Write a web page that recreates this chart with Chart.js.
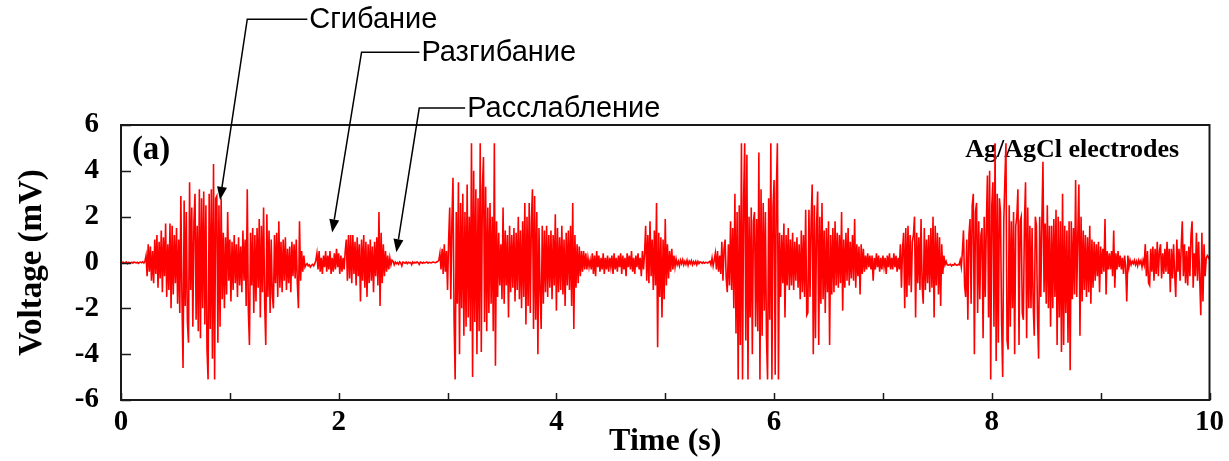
<!DOCTYPE html>
<html>
<head>
<meta charset="utf-8">
<title>EMG, Ag/AgCl electrodes</title>
<script src="https://cdn.jsdelivr.net/npm/chart.js@4.4.0/dist/chart.umd.min.js"></script>
<style>
  html, body { margin: 0; padding: 0; background: #fff; }
  #emgChart { display: block; }
</style>
</head>
<body>
<canvas id="emgChart" width="1229" height="461"></canvas>
<script>
// time between samples (s)
const sampleStep = 0.01;

// voltage (mV), one array per stretch of the recording
// each row is 0.1 s unless noted
const rest0 = [
  0, -0.02, 0.02, -0.03, 0, 0.02, -0.05, 0.01, 0, -0.02,
  0.01, -0.03, 0.02, 0, -0.02, 0.01, -0.04, 0, 0.02, -0.01,
  0.03, -0.02, 0.05
];
const flexion = [
  0.3, -0.6, 0.8, -0.4, 0.7, -0.8, 0.5,
  -0.9, 1.0, -0.5, 1.2, -1.1, 0.9, -0.7, 1.4, -1.3, 1.1,
  -0.6, 1.7, -1.5, 0.8, -1.2, 1.7, -2.0, 1.6, -1.4, 1.2,
  -0.9, 1.5, -1.8, 1.0, -2.2, 2.9, -1.6, -4.6, 2.7, -1.9,
  2.2, -2.6, -3.5, 3.5, -1.2, 2.4, -2.8, 1.8, 3.0, -2.5,
  1.6, -3.0, 3.2, -3.3, 2.8, -2.0, 3.1, -2.7, 2.5, -3.8,
  -5.1, 3.0, -2.9, 3.2, -4.2, 4.3, -5.1, 2.8, 2.9, -3.5,
  2.5, -2.8, 2.8, -1.6, 1.3, -2.0, 1.1, -1.4, 2.2, -0.8,
  1.0, -1.7, 0.9, -1.2, 1.2, -0.9, 0.8, -1.5, 1.1, -1.0,
  0.7, -1.3, 1.4, -0.8, 1.0, -1.9, 3.2, -2.1, -3.6, 1.3,
  -1.0, 1.5, -2.2, 1.2, -1.7, 1.5, -1.1, 1.9, -2.4, 1.6,
  -1.3, 2.4, -1.8, -3.6, 2.1, -1.5, 1.4, -2.2, 1.0, -1.4,
  -2.0, 1.2, -0.9, 1.3, -1.5, 1.8, -1.1, 0.9, -1.3, 1.0,
  -0.8, 1.1, -1.2, 0.6, -0.9, 0.7, -1.3, 0.9, -0.6, 0.8,
  -0.7, 1.0, -0.9, -2.0, 1.8, -0.8, 0.5, -0.4, 0.3, -0.2
];
const rest1 = [-0.1, -0.05, -0.15, -0.1, -0.2, -0.12, -0.08, -0.15, -0.05, 0.1];
const extension = [
  0.4, -0.3, 0.5, -0.4, 0.2, -0.5, 0.3, -0.2, 0.5, -0.4,
  0.3, -0.3, 0.5, -0.5, 0.2, -0.4, 0.4, -0.3, 0.6, -0.2,
  0.4, -0.5, 0.3, -0.4, 0.2, -0.3, 0.5, 1.0, -0.8, 1.2,
  -0.7, 1.2, -0.9, 1.2, -0.5, 0.9, -1.0, 1.1, -0.6, 0.8,
  -1.7, 1.0, -0.8, 1.2, -1.1, 0.9, -1.5, 0.8, -0.9, 1.0,
  -0.8, 0.7, -1.3, 0.9, -0.6, 1.1, -1.0, 2.2, -1.9, 1.3,
  -0.9, 0.8, -0.6, 0.5, -0.4, 0.3, -0.3, 0.2, -0.1, 0.1
];
const rest2 = [
  0.05, -0.1, 0.02, -0.05, 0, -0.08, 0.03, -0.02, -0.15, 0.02,
  0, -0.03, 0.02, -0.05, 0.01, -0.02, 0, -0.1, 0.02, -0.03,
  0.01, -0.02, 0.03, -0.01, -0.08, 0.02, 0, -0.03, 0.01, -0.02,
  0, 0.02, -0.03, 0.01, 0, -0.02, 0.01, 0.02, 0, -0.01,
  0.02, 0.05, 0.1
];
const burst3 = [
  0.4, -0.3, 0.6, -0.5, 0.8, -0.4, 0.5,
  -1.2, 1.0, 2.4, -1.6, 1.8, 3.7, -2.5, -5.1, 2.2, -1.8,
  3.5, -4.0, 2.6, -2.0, 3.0, -3.2, 2.2, -2.8, 3.4, -2.4,
  2.0, -3.0, 5.2, -5.0, 4.0, -2.6, 3.2, -4.0, 2.8, -3.0,
  5.2, -3.9, 3.2, 4.6, -2.6, 3.3, -3.0, 2.4, -2.2, 2.6,
  -1.8, 2.0, -3.0, 5.2, -4.5, 1.8, -1.5, 1.3, -1.0, 0.8,
  -1.6, 2.4, -1.8, 1.4, -1.0, 1.2, -2.4, 1.6, -1.3, 1.2,
  -1.1, 1.5, -1.7, 1.3, -1.2, 2.0, -1.6, 1.4, -2.0, 1.8,
  -1.5, 2.6, -2.7, 2.0, -1.9, 2.6, -2.2, 1.8, 3.2, -2.9,
  2.9, -2.5, 2.2, -4.0, 1.5, -1.2, -2.9, 1.6, -1.8, 1.4,
  -1.3, 1.6, -1.5, 1.2, -1.1, 1.4, -1.6, 1.2, -1.0, 2.1,
  -2.1, 1.5, -1.3, 1.1, -1.2, 1.6, -1.4, 1.0, -1.9, 1.3,
  -1.0, 1.4, -1.2, 1.6, -1.9, 2.6, -2.9, 1.2, -1.1, 0.8,
  -0.9, 0.7, -0.6, 0.5, -0.4, 0.5, -0.3, 0.4, -0.3, 0.2, -0.2, 0.1
];
const gap3 = [
  -0.3, 0.4, -0.5, 0.3, -0.6, 0.5, -0.2, 0.3,
  -0.4, 0.2, -0.3, 0.4, -0.5, 0.2, -0.3, 0.3, -0.4, 0.2,
  -0.2, 0.3, -0.5, 0.4, -0.3, 0.2, -0.4, 0.3, -0.2, 0.4,
  -0.5, 0.3, -0.3, 0.2, -0.6, 0.4, -0.2, 0.3, -0.3, 0.5,
  -0.4, 0.2, -0.5, 0.3, -0.2, 0.4, -0.3, 0.2, -0.6, 0.5,
  -0.3, 0.4
];
const twitch3 = [
  1.6, -0.8, 1.2, -0.9, 1.8, -0.6, 1.0, -1.2,
  1.4, -1.0, 2.6, -3.7, 1.3, -1.5, 1.1, -2.4, 1.0, -1.6,
  1.9, -1.0, 0.8, -0.7, 0.5, -0.4, 0.6, -0.3, 0.3
];
const rest3 = [
  -0.2,
  0.15, -0.1, 0.05, -0.15, 0.1, -0.05, 0.12, -0.1, 0.05, -0.08,
  0.1, -0.12, 0.06, -0.05, 0.08, -0.1, 0.04, -0.06, 0.05, -0.1,
  0.05, -0.05, 0.03, 0, -0.04, 0.02, -0.03, 0.01, 0, -0.02,
  0.02, 0.05, -0.1, 0.2, -0.15, 0.1
];
const burst4 = [
  0.4, -0.3, 0.5, -0.4,
  0.3, -0.5, 0.9, -0.8, 0.6, 1.0, -0.7, -1.3, 0.8, -1.0,
  1.8, -1.2, 1.5, -2.0, 3.0, -3.1, 2.2, -5.1, 2.5, -3.6,
  5.2, -5.1, 2.8, 5.2, -3.4, 4.7, -5.1, 2.0, -2.4, 2.4,
  -4.0, 1.8, 2.2, -2.8, 1.9, -3.0, 4.8, -5.1, 3.2, -3.2,
  2.6, -2.1, 2.2, -3.3, -5.1, 2.8, -2.5, 5.2, -5.1, 2.4,
  3.6, -4.9, 3.0, 5.2, -5.1, 1.3, -1.5, 1.2, -0.9, 1.7,
  -2.4, 1.2, -1.0, 1.5, -1.2, 1.0, -1.0, 1.3, -1.2, 0.9,
  -0.8, 1.1, -1.1, 0.8, -1.6, 1.4, -1.3, 1.2, -1.5, 2.3,
  -2.3, -2.2, 2.3, -1.5, 1.8, 3.4, -4.0, 2.5, -3.3, 1.6,
  3.1, -3.6, 2.0, -1.8, 2.6, -1.6, 1.4, -2.2, 1.5, -1.3,
  1.8, -3.6, 1.2, -1.4, 1.5, -1.3, 1.8, -1.0, 1.3, -1.1,
  1.2, -0.9, 2.2, -2.1, 1.0, -1.1, 1.3, -0.8, 1.5, -1.0,
  0.9, -0.7, 1.2, -0.8, 1.9, -1.1, 0.8, -0.6, 0.7, -1.4,
  0.8, -0.5, 0.6, -0.4, 0.3, -0.3, 0.4, -0.2, 0.3
];
const gap4 = [
  -0.3,
  0.3, -0.8, 0.2, -0.3, 0.4, -0.2, 0.3, -0.4, 0.2, -0.3,
  0.3, -0.2, 0.2, -0.5, 0.3, -0.2, 0.4, -0.3, 0.2, -0.3,
  0.4, -0.2, 0.3, -0.4, 0.2, -0.3
];
const twitch4 = [
  0.8, -1.1, 0.6, 1.3,
  -2.0, 1.5, -1.5, 1.6, -1.0, 1.2, -1.3, 0.9, 1.2, 2.0,
  -2.4, 1.3, -0.9, 1.1, -1.2, 1.9, -1.0, -1.8, 1.5, -1.2,
  1.0, -0.9, 1.2, -1.3, 1.5, -1.1, 2.0, -2.4, 1.6, -1.0,
  1.3, -1.4, 1.1, -1.9, 0.8, -0.5, 0.3
];
const rest4 = [
  -0.1, 0.05, -0.1,
  -0.12, -0.1, -0.08, -0.15, -0.1, -0.12, -0.05, -0.1, -0.12, -0.08,
  -0.1, 0.1, -0.2
];
const burst5 = [
  0.5, 1.4, -1.0, -1.5, 1.0, -2.5, 1.2,
  1.9, -1.8, 2.5, 3.0, -4.0, 2.2, 2.6, -2.2, 1.8, -1.6,
  1.2, 1.5, -3.3, 2.0, -1.5, 1.7, 3.8, -2.4, 4.0, -5.1,
  2.5, 3.5, -2.8, 5.2, -4.3, 3.0, -3.5, 2.8, 2.2, -2.6,
  -5.0, 1.8, 3.6, 5.2, -3.4, -3.8, 2.5, -2.8, 1.8, -2.0,
  2.2, -4.0, 1.6, 2.0, 3.2, -3.6, 1.8, 2.0, -2.2, -2.5,
  1.8, 3.5, -3.3, 2.4, -2.0, 1.6, -2.0, 1.5, -1.8, -3.2,
  2.0, 1.6, -2.4, -4.2, 2.0, -1.5, 1.8, 4.4, -1.3, 1.7,
  -1.8, 2.5, -2.0, 1.6, -2.8, 1.6, -2.0, 1.9, -1.5, 2.3,
  -3.6, 2.0, -2.4, 1.8, -3.9, 3.0, -3.6, 1.6, -2.2, 1.4,
  -3.5, 1.8, -4.7, 1.8, -1.6, 1.5, -1.4, 3.6, -1.5, 1.2,
  3.4, -3.2, 2.0, -1.7, 1.4, -1.2, 1.2, -1.5, 1.1, -1.3,
  1.6, -1.8, 1.0, -1.1, 0.9, -0.8, 0.8, -0.6, 0.9, -1.3,
  0.7, -0.5, 0.6, -0.4, 1.9, -1.4, 0.5, -0.3, 0.4, -0.3,
  0.5, -0.6, 1.4, -1.1, 0.4, -0.3, 0.5, -0.2, 0.3, -0.3,
  0.2, -0.5, 0.3, -0.2, -1.7, 0.3, -0.2, 0.1
];
const rest5 = [
  -0.1, 0.05,
  -0.05, 0.1, -0.1, 0.05, -0.15, 0.1, -0.05, 0.08, -0.2, 0.1,
  -0.1
];
const tail = [
  0.8, -0.6, 0.5, -0.9, -1.0, 0.6, -0.4, 0.7, -0.8,
  0.6, -0.5, 0.9, -0.6, 0.5, 0.8, -0.7, 0.4, -0.5, 0.6,
  -0.4, 0.9, -0.5, 0.6, -1.3, 0.6, -0.7, 0.8, -0.5, -1.5,
  1.0, -0.4, 0.6, -0.8, 0.7, 1.8, -0.6, 0.8, -0.9, 0.5,
  -1.0, 0.7, -0.6, 1.2, 1.8, -1.1, 0.4, -0.6, 1.3, -0.8,
  0.9, -0.7, -2.3, 1.3, -1.7, 0.8, -0.6, 0.2, 0.3, 0.2,
  0.3
];

const segments = [rest0, flexion, rest1, extension, rest2, burst3, gap3, twitch3,
                  rest3, burst4, gap4, twitch4, rest4, burst5, rest5, tail];

// axis ticks
const timeTicks = [0, 1, 2, 3, 4, 5, 6, 7, 8, 9, 10];
const timeTickLabels = [0, 2, 4, 6, 8, 10];
const voltTicks = [-6, -4, -2, 0, 2, 4, 6];

// callouts above the trace: arrow tip and elbow in data units, text starts at textAt (s)
const callouts = [
  { label: 'Сгибание', tip: [0.91, 2.73], knee: [1.16, 10.62], textAt: 1.73 },
  { label: 'Разгибание', tip: [1.94, 1.31], knee: [2.21, 9.18], textAt: 2.76 },
  { label: 'Расслабление', tip: [2.53, 0.45], knee: [2.74, 6.74], textAt: 3.18 }
];

const serif = "'Liberation Serif', 'Times New Roman', serif";
const sans = "'Liberation Sans', Arial, sans-serif";

const voltage = segments.flat();
const points = voltage.map((v, i) => ({ x: +(i * sampleStep).toFixed(2), y: v }));

const decorations = {
  id: 'decorations',
  beforeDatasetsDraw(chart) {
    const { ctx, scales: { x, y } } = chart;
    ctx.save();
    ctx.fillStyle = '#000';
    ctx.textBaseline = 'middle';
    ctx.textAlign = 'left';
    ctx.font = 'bold 33px ' + serif;
    ctx.fillText('(a)', x.getPixelForValue(0.1), y.getPixelForValue(4.9));
    ctx.font = 'bold 26px ' + serif;
    ctx.fillText('Ag/AgCl electrodes', x.getPixelForValue(7.755), y.getPixelForValue(4.9));
    ctx.restore();
  },
  afterDatasetsDraw(chart) {
    const { ctx, chartArea: area, scales: { x, y } } = chart;
    ctx.save();

    // frame
    ctx.strokeStyle = '#1a1a1a';
    ctx.lineWidth = 2;
    ctx.strokeRect(area.left, area.top, area.right - area.left, area.bottom - area.top);

    // inward ticks
    ctx.lineWidth = 1.5;
    ctx.beginPath();
    timeTicks.forEach(t => {
      const px = Math.round(x.getPixelForValue(t)) + 0.5;
      ctx.moveTo(px, area.bottom);
      ctx.lineTo(px, area.bottom - 7);
    });
    voltTicks.forEach(v => {
      const py = Math.round(y.getPixelForValue(v)) + 0.5;
      ctx.moveTo(area.left, py);
      ctx.lineTo(area.left + 10, py);
    });
    ctx.stroke();

    // callouts
    ctx.strokeStyle = '#000';
    ctx.fillStyle = '#000';
    ctx.lineWidth = 1.5;
    callouts.forEach(c => {
      const tx = x.getPixelForValue(c.tip[0]);
      const ty = y.getPixelForValue(c.tip[1]);
      const kx = x.getPixelForValue(c.knee[0]);
      const ky = y.getPixelForValue(c.knee[1]);
      const lx = x.getPixelForValue(c.textAt);
      const ang = Math.atan2(ty - ky, tx - kx);
      const headLen = 13, headHalf = 5;
      const bx = tx - headLen * Math.cos(ang);
      const by = ty - headLen * Math.sin(ang);

      ctx.beginPath();
      ctx.moveTo(lx - 2, ky);
      ctx.lineTo(kx, ky);
      ctx.lineTo(bx, by);
      ctx.stroke();

      ctx.beginPath();
      ctx.moveTo(tx, ty);
      ctx.lineTo(bx + headHalf * Math.sin(ang), by - headHalf * Math.cos(ang));
      ctx.lineTo(bx - headHalf * Math.sin(ang), by + headHalf * Math.cos(ang));
      ctx.closePath();
      ctx.fill();

      ctx.font = '29px ' + sans;
      ctx.textBaseline = 'middle';
      ctx.textAlign = 'left';
      ctx.fillText(c.label, lx, ky + 1);
    });
    ctx.restore();
  }
};

new Chart(document.getElementById('emgChart'), {
  type: 'line',
  data: {
    datasets: [{
      data: points,
      borderColor: '#ff0000',
      borderWidth: 1.6,
      pointRadius: 0,
      tension: 0,
      fill: false
    }]
  },
  options: {
    responsive: false,
    animation: false,
    events: [],
    layout: { padding: { top: 125, right: 17, bottom: 0, left: 0 } },
    plugins: { legend: { display: false }, tooltip: { enabled: false } },
    scales: {
      x: {
        type: 'linear',
        min: 0,
        max: 10,
        afterFit(scale) { scale.height = 61; },
        afterBuildTicks(scale) { scale.ticks = timeTicks.map(v => ({ value: v })); },
        grid: { display: false, drawTicks: false, tickLength: 0 },
        border: { display: false },
        ticks: {
          autoSkip: false,
          maxRotation: 0,
          padding: 5,
          color: '#000',
          font: { family: serif, size: 29, weight: 'bold' },
          callback: v => (timeTickLabels.includes(v) ? String(v) : '')
        },
        title: {
          display: true,
          text: 'Time (s)',
          color: '#000',
          font: { family: serif, size: 32, weight: 'bold' },
          padding: { top: 0, bottom: 0 }
        }
      },
      y: {
        min: -6,
        max: 6,
        afterFit(scale) { scale.width = 121; },
        afterBuildTicks(scale) { scale.ticks = voltTicks.map(v => ({ value: v })); },
        grid: { display: false, drawTicks: false, tickLength: 0 },
        border: { display: false },
        ticks: {
          padding: 22,
          color: '#000',
          font: { family: serif, size: 29, weight: 'bold' }
        },
        title: {
          display: true,
          text: 'Voltage (mV)',
          color: '#000',
          font: { family: serif, size: 33, weight: 'bold' },
          padding: { top: 13, bottom: 0 }
        }
      }
    }
  },
  plugins: [decorations]
});
</script>
</body>
</html>
